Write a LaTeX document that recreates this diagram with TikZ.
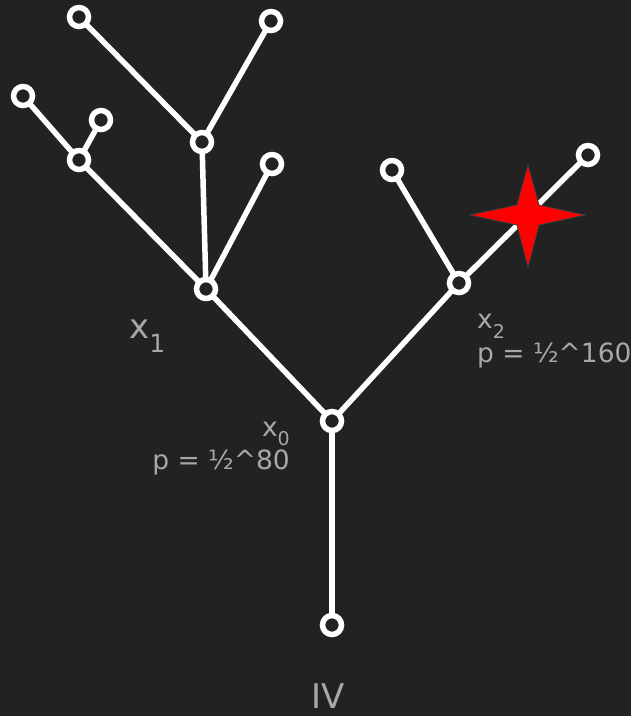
\documentclass[tikz,border=0pt]{standalone}
\usepackage{fontspec}
\setmainfont{DejaVu Sans}
\usepackage{xcolor}
\usepackage{tikz}
\usetikzlibrary{positioning,backgrounds}

\definecolor{bgdark}{HTML}{222222}
\definecolor{labgray}{HTML}{A8A8A8}

\begin{document}
\begin{tikzpicture}[x=1pt,y=-1pt,
  vtx/.style={circle, draw=white, line width=5.5pt, fill=bgdark,
              minimum size=19pt, inner sep=0pt},
  branch/.style={white, line width=5.5pt},
  lab/.style={text=labgray, inner sep=0pt, font=\fontsize{26.5}{30}\selectfont}]

%% ── Canvas (631 x 716 px, 1px = 1pt, y downwards) ───────────────────────────
\useasboundingbox (0,0) rectangle (631,716);

%% ── Vertices ─────────────────────────────────────────────────────────────────
\node[vtx] (root) at (332,625) {};
\node[vtx] (x0)   at (332,421) {};
\node[vtx] (x1)   at (206,289) {};
\node[vtx] (x2)   at (459,283) {};
\node[vtx] (l)    at (79,160)  {};
\node[vtx] (m)    at (202,142) {};
\node[vtx] (r)    at (272,164) {};
\node[vtx] (l1)   at (23,96)   {};
\node[vtx] (l2)   at (101,120) {};
\node[vtx] (m1)   at (79,17)   {};
\node[vtx] (m2)   at (271,21)  {};
\node[vtx] (q)    at (392,170) {};
\node[vtx] (s)    at (588,155) {};

%% ── Branches (behind the vertices) ───────────────────────────────────────────
\begin{scope}[on background layer]
  \fill[bgdark] (0,0) rectangle (631,716);
  \foreach \u/\v in {root/x0, x0/x1, x0/x2, x1/l, x1/m, x1/r,
                     l/l1, l/l2, m/m1, m/m2, x2/q, x2/s}{
    \draw[branch] (\u.center) -- (\v.center);
  }
\end{scope}

%% ── Red star on the x2 branch ────────────────────────────────────────────────
\fill[red, draw=black!75, line width=0.8pt]
  (470,215) -- (517,205) -- (528,165) -- (539,205) -- (585,215)
  -- (539,225) -- (528,267) -- (517,225) -- cycle;

%% ── Labels ───────────────────────────────────────────────────────────────────
\node[lab, anchor=base west, font=\fontsize{34}{38}\selectfont] (lx1) at (129,338)
  {x\raisebox{-14pt}{\fontsize{25}{28}\selectfont 1}};

\node[lab, anchor=base east] (lx0) at (290,436)
  {x\raisebox{-9pt}{\fontsize{19}{22}\selectfont 0}};
\node[lab, anchor=base east] (px0) at (290,469) {p = ½\^{}80};

\node[lab, anchor=base west] (lx2) at (477,328)
  {x\raisebox{-10pt}{\fontsize{19}{22}\selectfont 2}};
\node[lab, anchor=base west] (px2) at (477,362) {p = ½\^{}160};

\node[lab, anchor=base, font=\fontsize{34}{38}\selectfont] (lroot) at (328,708) {IV};

\end{tikzpicture}
\end{document}
